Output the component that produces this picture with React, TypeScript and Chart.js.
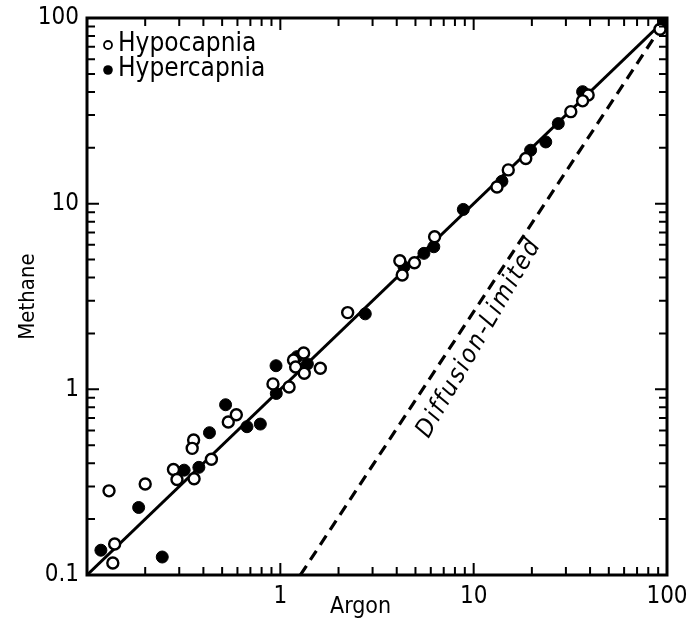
import React, { useEffect, useRef } from 'react';
import { Chart, registerables } from 'chart.js';

Chart.register(...registerables);

// Hypocapnia (open circles)
const hypoArgon = [0.13, 0.139, 0.136, 0.2, 0.28, 0.292, 0.358, 0.356, 0.35, 0.44, 0.538, 0.592, 0.916, 1.11, 1.17, 1.32, 1.2, 1.61, 1.33, 2.23, 4.15, 4.94, 4.27, 6.28, 13.2, 15.1, 18.6, 31.8, 39.1, 36.6, 92];
const hypoMethane = [0.284, 0.147, 0.116, 0.309, 0.37, 0.327, 0.33, 0.533, 0.481, 0.42, 0.667, 0.73, 1.07, 1.03, 1.44, 1.57, 1.32, 1.3, 1.22, 2.59, 4.93, 4.81, 4.13, 6.64, 12.3, 15.2, 17.5, 31.3, 38.5, 35.8, 87];

// Hypercapnia (filled circles)
const hyperArgon = [0.118, 0.185, 0.245, 0.318, 0.379, 0.43, 0.521, 0.672, 0.788, 0.953, 0.95, 1.22, 1.38, 2.75, 4.36, 5.53, 6.22, 8.84, 14.0, 19.7, 23.6, 27.4, 36.6, 96];
const hyperMethane = [0.136, 0.231, 0.125, 0.367, 0.38, 0.584, 0.826, 0.629, 0.65, 0.95, 1.34, 1.5, 1.37, 2.55, 4.57, 5.4, 5.86, 9.31, 13.2, 19.4, 21.5, 27.0, 40.1, 97];

// Reference lines
const identityArgon = [0.1, 100];
const identityMethane = [0.1, 100];
const diffusionArgon = [1.27, 100];
const diffusionMethane = [0.1, 100];

// Tick labels
const xTickValues = [1, 10, 100];
const yTickValues = [0.1, 1, 10, 100];
const minorDecades = [0.1, 1, 10];

const FONT = "'Liberation Sans Narrow', 'DejaVu Sans Condensed', 'Arial Narrow', sans-serif";

const pts = (xs: number[], ys: number[]) => xs.map((x, i) => ({ x, y: ys[i] }));

const framePlugin = {
  id: 'frameTicks',
  afterDatasetsDraw(chart: any) {
    const { ctx, chartArea: a, scales } = chart;
    const xs = scales.x;
    const ys = scales.y;
    ctx.save();
    ctx.strokeStyle = '#000';
    ctx.lineWidth = 2;
    ctx.lineCap = 'butt';
    for (const d of minorDecades) {
      for (let k = 2; k <= 10; k++) {
        const v = d * k;
        if (v >= 100) continue;
        const len = k === 10 ? 12 : 8;
        const px = xs.getPixelForValue(v);
        const py = ys.getPixelForValue(v);
        ctx.beginPath();
        ctx.moveTo(px, a.bottom); ctx.lineTo(px, a.bottom - len);
        ctx.moveTo(px, a.top); ctx.lineTo(px, a.top + len);
        ctx.moveTo(a.left, py); ctx.lineTo(a.left + len, py);
        ctx.moveTo(a.right, py); ctx.lineTo(a.right - len, py);
        ctx.stroke();
      }
    }
    ctx.lineWidth = 3;
    ctx.strokeRect(a.left, a.top, a.right - a.left, a.bottom - a.top);

    // legend
    const lx = a.left + 21;
    ctx.fillStyle = '#000';
    ctx.font = `26px ${FONT}`;
    ctx.textBaseline = 'middle';
    ctx.textAlign = 'left';
    ctx.lineWidth = 1.8;
    ctx.beginPath();
    ctx.arc(lx, a.top + 27, 4, 0, Math.PI * 2);
    ctx.stroke();
    ctx.fillText('Hypocapnia', lx + 10, a.top + 26);
    ctx.beginPath();
    ctx.arc(lx, a.top + 52, 4.8, 0, Math.PI * 2);
    ctx.fill();
    ctx.fillText('Hypercapnia', lx + 10, a.top + 51);

    // x-axis title
    ctx.font = `23px ${FONT}`;
    ctx.textAlign = 'center';
    ctx.fillText('Argon', xs.getPixelForValue(2.6), a.bottom + 32);

    // Diffusion-Limited label
    const tx = xs.getPixelForValue(10.7);
    const ty = ys.getPixelForValue(1.89);
    ctx.translate(tx, ty);
    ctx.rotate(-60 * Math.PI / 180);
    ctx.textAlign = 'center';
    ctx.font = `italic 25px ${FONT}`;
    (ctx as any).letterSpacing = '2px';
    ctx.fillText('Diffusion-Limited', 0, 0);
    ctx.restore();
  },
};

export default function App() {
  const ref = useRef<HTMLCanvasElement | null>(null);
  useEffect(() => {
    if (!ref.current) return;
    const chart = new Chart(ref.current, {
      type: 'scatter',
      data: {
        datasets: [
          {
            type: 'line',
            label: 'Identity',
            data: pts(identityArgon, identityMethane),
            borderColor: '#000',
            borderWidth: 3,
            pointRadius: 0,
            fill: false,
            order: 3,
          },
          {
            type: 'line',
            label: 'Diffusion-Limited',
            data: pts(diffusionArgon, diffusionMethane),
            borderColor: '#000',
            borderWidth: 3.2,
            borderDash: [11, 7],
            pointRadius: 0,
            fill: false,
            order: 3,
          },
          {
            label: 'Hypocapnia',
            data: pts(hypoArgon, hypoMethane),
            pointStyle: 'circle',
            pointRadius: 5.5,
            pointBorderWidth: 2.4,
            pointBackgroundColor: '#fff',
            pointBorderColor: '#000',
            order: 1,
          },
          {
            label: 'Hypercapnia',
            data: pts(hyperArgon, hyperMethane),
            pointStyle: 'circle',
            pointRadius: 6,
            pointBorderWidth: 1,
            pointBackgroundColor: '#000',
            pointBorderColor: '#000',
            order: 2,
          },
        ],
      },
      options: {
        responsive: false,
        animation: false,
        layout: { padding: { left: 0, right: 20, top: 18, bottom: 0 } },
        plugins: { legend: { display: false }, tooltip: { enabled: false } },
        scales: {
          x: {
            type: 'logarithmic',
            position: 'bottom',
            min: 0.1,
            max: 100,
            grid: { display: false, drawTicks: false },
            border: { display: false },
            afterBuildTicks: (s: any) => { s.ticks = xTickValues.map((v) => ({ value: v })); },
            afterFit: (s: any) => { s.height = 50; s.paddingLeft = 0; s.paddingRight = 0; },
            ticks: {
              color: '#000',
              font: { family: FONT, size: 24 },
              padding: 7,
              maxRotation: 0,
              autoSkip: false,
              callback: (v: any) => String(v),
            },
            title: { display: false },
          },
          y: {
            type: 'logarithmic',
            position: 'left',
            min: 0.1,
            max: 100,
            grid: { display: false, drawTicks: false },
            border: { display: false },
            afterBuildTicks: (s: any) => { s.ticks = yTickValues.map((v) => ({ value: v })); },
            afterFit: (s: any) => { s.width = 87; s.paddingTop = 0; s.paddingBottom = 0; },
            ticks: {
              color: '#000',
              font: { family: FONT, size: 24 },
              padding: 8,
              autoSkip: false,
              callback: (v: any) => String(v),
            },
            title: {
              display: true,
              text: 'Methane',
              color: '#000',
              font: { family: FONT, size: 22 },
              padding: { top: 15, bottom: 0 },
            },
          },
        },
      },
      plugins: [framePlugin],
    } as any);
    return () => chart.destroy();
  }, []);

  return (
    <div style={{ position: 'absolute', left: 0, top: 0, width: 687, height: 625, background: '#fff' }}>
      <canvas ref={ref} width={687} height={625} style={{ width: 687, height: 625 }} />
    </div>
  );
}
